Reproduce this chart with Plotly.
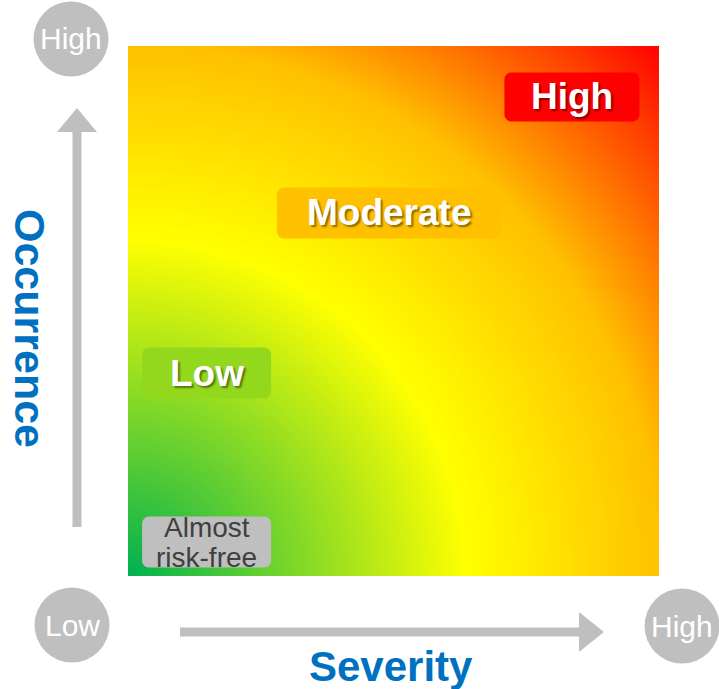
import numpy as np
import plotly.graph_objects as go

W, H = 719, 689

# ---- gradient definition (normalised distance from the low/low corner) ----
gradient_stops = [0.0, 0.45, 0.71, 1.0]
gradient_colors = ["#00B050", "#FFFF00", "#FFC000", "#FF0000"]
grid_n = 241

# ---- zone labels (severity, occurrence in 0..1 space) ----
zone_labels = ["High", "Moderate", "Low", "Almost<br>risk-free"]
zone_severity = [0.836, 0.4915, 0.148, 0.148]
zone_occurrence = [0.904, 0.685, 0.383, 0.064]

# ---- axis texts ----
x_title = "Severity"
y_title = "Occurrence"
end_labels = ["High", "Low", "High"]

# ---------------- layout helpers (pixel geometry) ----------------
PLOT_L, PLOT_R, PLOT_T, PLOT_B = 128, 659, 46, 576
FONT = "Liberation Sans, Arial, sans-serif"
GREY = "#BFBFBF"
BLUE = "#0070C0"


def to_paper(x, y):
    return x / W, 1 - y / H


def to_data(x, y):
    return (x - PLOT_L) / (PLOT_R - PLOT_L), (PLOT_B - y) / (PLOT_B - PLOT_T)


def rounded_rect(cx, cy, w, h, r, conv):
    x0, x1 = cx - w / 2, cx + w / 2
    y0, y1 = cy - h / 2, cy + h / 2
    pts = []
    corners = [(x1 - r, y0 + r, -90, 0), (x1 - r, y1 - r, 0, 90),
               (x0 + r, y1 - r, 90, 180), (x0 + r, y0 + r, 180, 270)]
    for ccx, ccy, a0, a1 in corners:
        for a in np.linspace(np.radians(a0), np.radians(a1), 7):
            pts.append(conv(ccx + r * np.cos(a), ccy + r * np.sin(a)))
    return "M " + " L ".join(f"{px:.5f},{py:.5f}" for px, py in pts) + " Z"


def polygon(points, conv):
    pts = [conv(x, y) for x, y in points]
    return "M " + " L ".join(f"{px:.5f},{py:.5f}" for px, py in pts) + " Z"


# ---------------- gradient heatmap ----------------
sev = np.linspace(0, 1, grid_n)
occ = np.linspace(0, 1, grid_n)
SX, OY = np.meshgrid(sev, occ)
z = np.sqrt(SX ** 2 + OY ** 2) / np.sqrt(2)

colorscale = [[s, c] for s, c in zip(gradient_stops, gradient_colors)]

fig = go.Figure()
fig.add_trace(go.Heatmap(x=sev, y=occ, z=z, colorscale=colorscale, zmin=0, zmax=1,
                         zsmooth="best", showscale=False, hoverinfo="skip"))

shapes = []
annotations = []

# zone boxes (pixel sizes) and styles
box_sizes = [(135, 49), (224, 51), (129, 51), (129, 51)]
box_colors = ["#FF0000", "#FFC000", "#94D81E", GREY]
text_colors = ["white", "white", "white", "#404040"]
text_sizes = [37, 37, 37, 28]
text_bold = [True, True, True, False]
line_gap = 30  # px between wrapped lines

for lab, sx, oy, (bw, bh), bc, tc, ts, tb in zip(zone_labels, zone_severity, zone_occurrence,
                                                 box_sizes, box_colors, text_colors, text_sizes, text_bold):
    cx = PLOT_L + sx * (PLOT_R - PLOT_L)
    cy = PLOT_B - oy * (PLOT_B - PLOT_T)
    shapes.append(dict(type="path", xref="x", yref="y",
                       path=rounded_rect(cx, cy, bw, bh, 7, to_data),
                       fillcolor=bc, line=dict(width=0), layer="above"))
    font = dict(family=FONT, size=ts, color=tc)
    if tb:
        font["weight"] = "bold"
        font["shadow"] = "2px 2px 2px rgba(0,0,0,0.45)"
    lines = lab.split("<br>")
    n = len(lines)
    for i, line in enumerate(lines):
        ly = cy + (i - (n - 1) / 2) * line_gap
        dx, dy = to_data(cx, ly)
        annotations.append(dict(x=dx, y=dy, xref="x", yref="y", text=line, showarrow=False,
                                font=font, xanchor="center", yanchor="middle"))

# end circles
circle_centers = [(71, 39), (72, 625), (682, 626)]
circle_r = 37.5
for lab, (cx, cy) in zip(end_labels, circle_centers):
    x0, y0 = to_paper(cx - circle_r, cy - circle_r)
    x1, y1 = to_paper(cx + circle_r, cy + circle_r)
    shapes.append(dict(type="circle", xref="paper", yref="paper", x0=x0, x1=x1, y0=y1, y1=y0,
                       fillcolor=GREY, line=dict(width=0)))
    px, py = to_paper(cx, cy)
    annotations.append(dict(x=px, y=py, xref="paper", yref="paper", text=lab, showarrow=False,
                            font=dict(family=FONT, size=30, color="white"),
                            xanchor="center", yanchor="middle"))

# arrows
v_arrow = [(72.5, 527), (72.5, 132), (57, 132), (77, 108), (97, 132), (81.5, 132), (81.5, 527)]
h_arrow = [(180, 627.5), (579, 627.5), (579, 612), (604, 632), (579, 652), (579, 636.5), (180, 636.5)]
for pts in (v_arrow, h_arrow):
    shapes.append(dict(type="path", xref="paper", yref="paper", path=polygon(pts, to_paper),
                       fillcolor=GREY, line=dict(width=0)))

# axis titles
tx, ty = to_paper(391, 666)
annotations.append(dict(x=tx, y=ty, xref="paper", yref="paper", text=x_title, showarrow=False,
                        font=dict(family=FONT, size=42, color=BLUE, weight="bold"),
                        xanchor="center", yanchor="middle", borderpad=0))
tx, ty = to_paper(30, 328)
annotations.append(dict(x=tx, y=ty, xref="paper", yref="paper", text=y_title, showarrow=False,
                        textangle=90,
                        font=dict(family=FONT, size=43, color=BLUE, weight="bold"),
                        xanchor="center", yanchor="middle"))

fig.update_layout(
    width=W, height=H,
    margin=dict(l=0, r=0, t=0, b=0),
    paper_bgcolor="white", plot_bgcolor="white",
    xaxis=dict(domain=[PLOT_L / W, PLOT_R / W], range=[0, 1], visible=False, fixedrange=True),
    yaxis=dict(domain=[1 - PLOT_B / H, 1 - PLOT_T / H], range=[0, 1], visible=False, fixedrange=True),
    shapes=shapes, annotations=annotations, showlegend=False,
)

fig.write_html("out.html", config={"displayModeBar": False},
               post_script="document.body.style.margin='0';document.body.style.overflow='hidden';")
